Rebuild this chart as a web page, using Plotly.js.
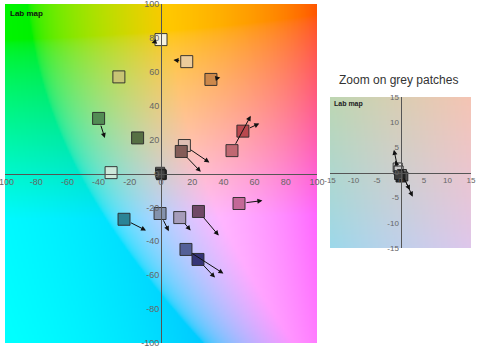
<!DOCTYPE html>
<html>
<head>
<meta charset="utf-8">
<script src="https://cdn.plot.ly/plotly-3.0.1.min.js"></script>
<style>html,body{margin:0;padding:0;background:#fff;}#chart{width:483px;height:350px;}</style>
</head>
<body>
<div id="chart"></div>
<script>
// ---- Data: colour patches (a*, b*) and their shifted positions ----
var patchA     = [0, 16.5, 32, -27, -40, -15, 52.5, 45.5, 15, 13, -32, 50, -23.7, -0.6, 12, 24, 16, 23.7];
var patchB     = [79, 66, 55.5, 57, 32.5, 21, 25, 13.5, 16.5, 13, 0.5, -17.7, -27, -23.6, -26, -22.4, -44.8, -50.7];
var shiftA     = [-6, 8, 38, null, -36, null, 63, 57.5, 31, 25.5, -28, 65, -9.6, 5, 19, 37, 40, 34.6];
var shiftB     = [77, 67, 56.6, null, 21, null, 29.5, 34, 6.5, 1, -3.5, -16, -33.6, -34, -33.6, -36.6, -59, -61.4];
var patchColor = ['rgb(246,242,222)', 'rgb(236,204,156)', 'rgb(204,136,74)', 'rgb(200,196,116)',
                  'rgb(82,140,84)', 'rgb(86,112,68)', 'rgb(186,72,78)', 'rgb(192,104,114)',
                  'rgb(222,190,180)', 'rgb(132,92,88)', 'rgb(204,232,218)', 'rgb(196,104,152)',
                  'rgb(42,132,150)', 'rgb(132,146,172)', 'rgb(166,156,186)', 'rgb(112,72,102)',
                  'rgb(84,96,152)', 'rgb(52,52,118)'];

// ---- Data: grey patches ----
var greyA      = [-0.6, -0.4, 0.3, 0.6, 0.0, -0.3];
var greyB      = [1.0, 0.4, -0.3, -0.8, -1.0, -0.5];
var greyShiftA = [-1.4, -1.1, 2.0, 2.6, null, null];
var greyShiftB = [4.5, 2.4, -3.5, -4.8, null, null];
var greyColor  = ['rgb(236,236,236)', 'rgb(200,200,200)', 'rgb(120,120,120)', 'rgb(82,82,82)', 'rgb(40,40,40)', 'rgb(62,62,62)'];

var mainTicks  = [-100, -80, -60, -40, -20, 0, 20, 40, 60, 80, 100];
var mainLabels = ['-100', '-80', '-60', '-40', '-20', '0', '20', '40', '60', '80', '100'];
var zoomTicks  = [-15, -10, -5, 0, 5, 10, 15];
var zoomLabels = ['-15', '-10', '-5', '0', '5', '10', '15'];

// ---- Lab background generated as an image ----
function labToRgb(L, a, b) {
  var fy = (L + 16) / 116, fx = fy + a / 500, fz = fy - b / 200;
  function finv(t) { return t > 6 / 29 ? t * t * t : 3 * (6 / 29) * (6 / 29) * (t - 4 / 29); }
  var X = 0.95047 * finv(fx), Y = finv(fy), Z = 1.08883 * finv(fz);
  var r = 3.2406 * X - 1.5372 * Y - 0.4986 * Z;
  var g = -0.9689 * X + 1.8758 * Y + 0.0415 * Z;
  var bl = 0.0557 * X - 0.2040 * Y + 1.0570 * Z;
  function gam(c) { c = Math.max(0, Math.min(1, c)); return c <= 0.0031308 ? 12.92 * c : 1.055 * Math.pow(c, 1 / 2.4) - 0.055; }
  return [Math.round(gam(r) * 255), Math.round(gam(g) * 255), Math.round(gam(bl) * 255)];
}
function labImage(lo, hi, n, L) {
  var cv = document.createElement('canvas');
  cv.width = n; cv.height = n;
  var ctx = cv.getContext('2d');
  var img = ctx.createImageData(n, n);
  for (var j = 0; j < n; j++) {
    for (var i = 0; i < n; i++) {
      var a = lo + (hi - lo) * (i + 0.5) / n;
      var b = hi - (hi - lo) * (j + 0.5) / n;
      var c = labToRgb(L, a, b);
      var k = (j * n + i) * 4;
      img.data[k] = c[0]; img.data[k + 1] = c[1]; img.data[k + 2] = c[2]; img.data[k + 3] = 255;
    }
  }
  ctx.putImageData(img, 0, 0);
  return cv.toDataURL('image/png');
}

var mainDom = {x: [5 / 483, 317 / 483], y: [1 - 343 / 350, 1 - 4 / 350]};
var zoomDom = {x: [330 / 483, 471 / 483], y: [1 - 248 / 350, 1 - 97 / 350]};

var traces = [
  {type: 'scatter', mode: 'markers', x: patchA, y: patchB, xaxis: 'x', yaxis: 'y',
   marker: {symbol: 'square', size: 12, color: patchColor, line: {color: 'rgba(40,40,40,0.9)', width: 1}},
   hoverinfo: 'x+y', showlegend: false},
  {type: 'scatter', mode: 'markers', x: greyA, y: greyB, xaxis: 'x', yaxis: 'y',
   marker: {symbol: 'square', size: 9, color: greyColor, line: {color: 'rgba(30,30,30,0.9)', width: 1}},
   hoverinfo: 'x+y', showlegend: false},
  {type: 'scatter', mode: 'markers', x: greyA, y: greyB, xaxis: 'x2', yaxis: 'y2',
   marker: {symbol: 'square', size: 9, color: greyColor, line: {color: 'rgba(30,30,30,0.9)', width: 1}},
   hoverinfo: 'x+y', showlegend: false}
];

var annotations = [];
function addArrows(ax, ay, hx, hy, xr, yr, ss) {
  for (var i = 0; i < ax.length; i++) {
    if (hx[i] === null) continue;
    annotations.push({x: hx[i], y: hy[i], ax: ax[i], ay: ay[i], xref: xr, yref: yr, axref: xr, ayref: yr,
      text: '', showarrow: true, arrowhead: 2, arrowsize: 1, arrowwidth: 1, arrowcolor: '#111',
      standoff: 0, startstandoff: ss});
  }
}
addArrows(patchA, patchB, shiftA, shiftB, 'x', 'y', 6);
addArrows(greyA, greyB, greyShiftA, greyShiftB, 'x2', 'y2', 3);

annotations.push({text: '<b>Lab map</b>', xref: 'paper', yref: 'paper', x: 8 / 483, y: 1 - 13 / 350,
  xanchor: 'left', yanchor: 'middle', showarrow: false, font: {size: 8, color: '#111', family: 'Liberation Sans, Arial, sans-serif'}});
annotations.push({text: '<b>Lab map</b>', xref: 'paper', yref: 'paper', x: 332 / 483, y: 1 - 104 / 350,
  xanchor: 'left', yanchor: 'middle', showarrow: false, font: {size: 7, color: '#222', family: 'Liberation Sans, Arial, sans-serif'}});
annotations.push({text: 'Zoom on grey patches', xref: 'paper', yref: 'paper', x: 398 / 483, y: 1 - 80 / 350,
  xanchor: 'center', yanchor: 'middle', showarrow: false, font: {size: 12, color: '#333', family: 'Liberation Sans, Arial, sans-serif'}});

function axis(dom, range, ticks, labels, anchorPos, fs) {
  return {domain: dom, range: range, anchor: 'free', position: anchorPos, showline: true, linecolor: '#555',
    linewidth: 1, showgrid: false, zeroline: false, tickmode: 'array', tickvals: ticks, ticktext: labels, ticks: '',
    ticklabeloverflow: 'allow',
    tickfont: {size: fs, color: '#666', family: 'Liberation Sans, Arial, sans-serif'}, fixedrange: true};
}

var layout = {
  width: 483, height: 350,
  margin: {l: 0, r: 0, t: 0, b: 0},
  paper_bgcolor: '#fff', plot_bgcolor: 'rgba(0,0,0,0)',
  showlegend: false,
  xaxis: axis(mainDom.x, [-100, 100], mainTicks, mainLabels, (mainDom.y[0] + mainDom.y[1]) / 2, 9),
  yaxis: axis(mainDom.y, [-100, 100], mainTicks, mainLabels, (mainDom.x[0] + mainDom.x[1]) / 2, 9),
  xaxis2: axis(zoomDom.x, [-15, 15], zoomTicks, zoomLabels, (zoomDom.y[0] + zoomDom.y[1]) / 2, 8),
  yaxis2: axis(zoomDom.y, [-15, 15], zoomTicks, zoomLabels, (zoomDom.x[0] + zoomDom.x[1]) / 2, 8),
  images: [
    {source: labImage(-100, 100, 200, 83), xref: 'x', yref: 'y', x: -100, y: 100, sizex: 200, sizey: 200,
     sizing: 'stretch', layer: 'below', xanchor: 'left', yanchor: 'top'},
    {source: labImage(-15, 15, 90, 83), xref: 'x2', yref: 'y2', x: -15, y: 15, sizex: 30, sizey: 30,
     sizing: 'stretch', layer: 'below', xanchor: 'left', yanchor: 'top'}
  ],
  annotations: annotations
};

Plotly.newPlot('chart', traces, layout, {displayModeBar: false, staticPlot: true});
</script>
</body>
</html>
